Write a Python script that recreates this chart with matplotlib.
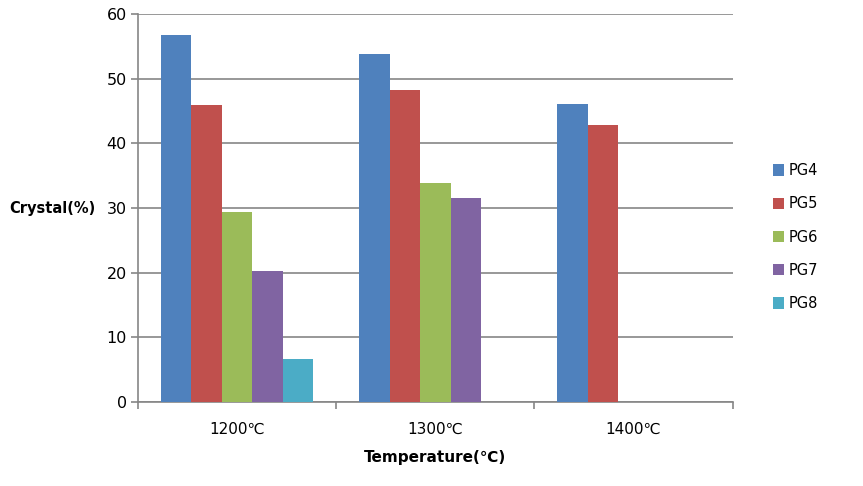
import numpy as np
import matplotlib.pyplot as plt

plt.rcParams['font.family'] = ['DejaVu Sans', 'Noto Sans CJK SC']

# data
temps = ['1200℃', '1300℃', '1400℃']
series = ['PG4', 'PG5', 'PG6', 'PG7', 'PG8']
pg4 = [56.8, 53.8, 46.1]
pg5 = [45.9, 48.2, 42.9]
pg6 = [29.4, 33.8, 0]
pg7 = [20.3, 31.5, 0]
pg8 = [6.7, 0, 0]
colors = ['#4F81BD', '#C0504D', '#9BBB59', '#8064A2', '#4BACC6']

fig = plt.figure(figsize=(8.63, 4.86), dpi=100)
ax = fig.add_axes([0.160, 0.173, 0.689, 0.798])

x = np.arange(len(temps))
w = 1 / 6.5
for i, (name, vals) in enumerate(zip(series, [pg4, pg5, pg6, pg7, pg8])):
    ax.bar(x + (i - 2) * w, vals, width=w, color=colors[i], label=name,
           linewidth=0, zorder=3)

ax.set_xlim(-0.5, 2.5)
ax.set_ylim(0, 60)
ax.set_yticks(range(0, 61, 10))
ax.grid(axis='y', color='#868686', linewidth=1.2, zorder=0)

for s in ['top', 'right']:
    ax.spines[s].set_visible(False)
for s in ['left', 'bottom']:
    ax.spines[s].set_color('#868686')
    ax.spines[s].set_linewidth(1.2)

ax.set_xticks(x)
ax.set_xticklabels(temps, fontsize=11)
ax.set_xticks([-0.5, 0.5, 1.5, 2.5], minor=True)
ax.tick_params(axis='x', which='major', length=0, pad=14)
ax.tick_params(axis='x', which='minor', length=5, width=1.2, color='#868686')
ax.tick_params(axis='y', length=5, width=1.2, color='#868686', labelsize=11.5, pad=3)

ax.set_xlabel('Temperature(℃)', fontsize=11, fontweight='bold', labelpad=10)
fig.text(0.111, 0.572, 'Crystal(%)', fontsize=10.5, fontweight='bold',
         ha='right', va='center')

ax.legend(loc='center left', bbox_to_anchor=(1.045, 0.425), frameon=False,
          fontsize=10.5, handlelength=0.8, handleheight=0.8, labelspacing=1.25,
          handletextpad=0.3)

fig.savefig('out.png', dpi=100)
